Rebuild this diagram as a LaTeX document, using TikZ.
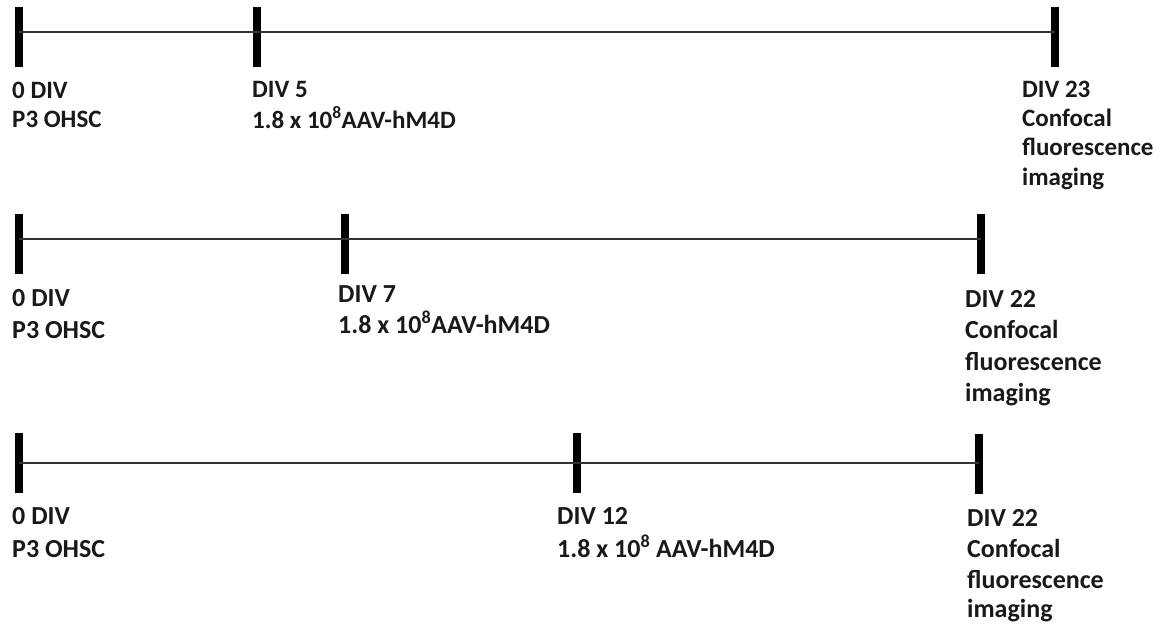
\documentclass[tikz,border=0pt]{standalone}
\usepackage{fontspec}
\setmainfont{Carlito}
\begin{document}
\begin{tikzpicture}[x=1pt,y=-1pt,
  tickmark/.style={fill=black,draw=none,minimum width=8pt,minimum height=60pt,inner sep=0pt,rectangle},
  axis/.style={draw=black!80,line width=2pt},
  lbl/.style={anchor=base west,inner sep=0pt,text=black!90,font=\bfseries\fontsize{#1}{#1}\selectfont},
  lbl/.default=26]
\useasboundingbox (0,0) rectangle (1170,627);
% row 1
\coordinate (r1) at (0,32);
\node[tickmark] (t11) at (19,37) {};
\node[tickmark] (t12) at (257,37) {};
\node[tickmark] (t13) at (1055,37) {};
\draw[axis] (t11 |- r1) -- (t13 |- r1);
\node[lbl=25] (a11a) at (12,98) {0 DIV};
\node[lbl=25] (a11b) at (12,127) {P3 OHSC};
\node[lbl=25] (a12a) at (252,97) {DIV 5};
\node[lbl=25] (a12b) at (252,128) {1.8 x 10\textsuperscript{8}AAV-hM4D};
\node[lbl=25] (a13a) at (1022,97) {DIV 23};
\node[lbl=25] (a13b) at (1022,126) {Confocal};
\node[lbl=25] (a13c) at (1022,155) {fluorescence};
\node[lbl=25] (a13d) at (1022,185) {imaging};
% row 2
\coordinate (r2) at (0,239);
\node[tickmark] (t21) at (19,243.5) {};
\node[tickmark] (t22) at (345,243.5) {};
\node[tickmark] (t23) at (981,244) {};
\draw[axis] (t21 |- r2) -- (t23 |- r2);
\node[lbl] (a21a) at (12,306) {0 DIV};
\node[lbl] (a21b) at (12,338) {P3 OHSC};
\node[lbl] (a22a) at (338,302) {DIV 7};
\node[lbl] (a22b) at (338,333) {1.8 x 10\textsuperscript{8}AAV-hM4D};
\node[lbl] (a23a) at (965,307) {DIV 22};
\node[lbl] (a23b) at (965,338) {Confocal};
\node[lbl] (a23c) at (965,370) {fluorescence};
\node[lbl] (a23d) at (965,401) {imaging};
% row 3
\coordinate (r3) at (0,463);
\node[tickmark] (t31) at (19,463) {};
\node[tickmark] (t32) at (577,462.5) {};
\node[tickmark] (t33) at (979,463.5) {};
\draw[axis] (t31 |- r3) -- (t33 |- r3);
\node[lbl] (a31a) at (12,524) {0 DIV};
\node[lbl] (a31b) at (12,557) {P3 OHSC};
\node[lbl] (a32a) at (557,524) {DIV 12};
\node[lbl] (a32b) at (557,557) {1.8 x 10\textsuperscript{8} AAV-hM4D};
\node[lbl] (a33a) at (967,526) {DIV 22};
\node[lbl] (a33b) at (967,557) {Confocal};
\node[lbl] (a33c) at (967,588) {fluorescence};
\node[lbl] (a33d) at (967,617) {imaging};
\end{tikzpicture}
\end{document}
